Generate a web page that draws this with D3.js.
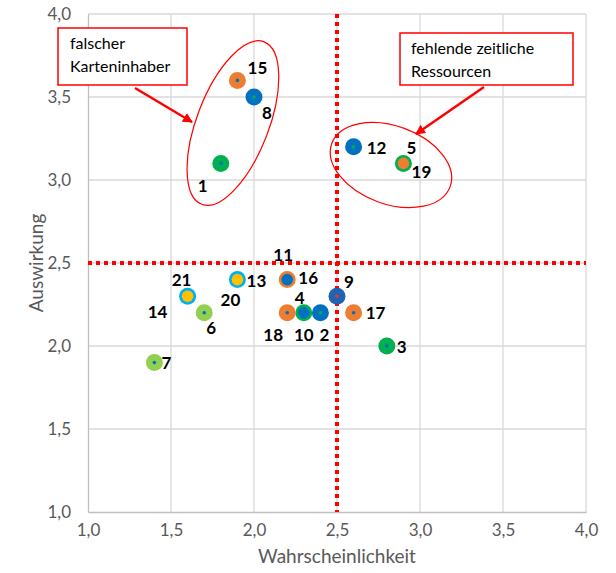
<!DOCTYPE html>
<html><head><meta charset="utf-8">
<script src="https://cdn.jsdelivr.net/npm/d3@7/dist/d3.min.js"></script>
<style>
html,body{margin:0;padding:0;background:#fff;}
svg{display:block;font-family:Lato,"Open Sans",sans-serif;}
</style></head>
<body>
<svg id="c" width="616" height="573"></svg>
<script>
// ---- data ----
const riskIds = [1,2,3,4,5,6,7,8,9,10,11,12,13,14,15,16,17,18,19,20,21];
const wahrscheinlichkeit = [1.8,2.4,2.8,2.3,2.9,1.7,1.4,2.0,2.5,2.3,2.2,2.6,1.9,1.6,1.9,2.2,2.6,2.2,2.9,1.9,1.6];
const auswirkung = [3.1,2.2,2.0,2.2,3.1,2.2,1.9,3.5,2.3,2.2,2.4,3.2,2.4,2.3,3.6,2.4,2.2,2.2,3.1,2.4,2.3];
const xTicks = [1.0,1.5,2.0,2.5,3.0,3.5,4.0];
const yTicks = [1.0,1.5,2.0,2.5,3.0,3.5,4.0];
const thresholdX = 2.5, thresholdY = 2.5;
const calloutTexts = [["falscher","Karteninhaber"],["fehlende zeitliche","Ressourcen"]];

// ---- styles (per risk id) ----
const C = {blue:"#0070C0", orange:"#ED7D31", green:"#00B050", lgreen:"#92D050", lblue:"#00B0F0", yellow:"#FFC000", dblue:"#1F63B3"};
const style = {
 1:{f:C.green,d:C.blue,inner:false,lp:[-18,22]},
 2:{f:C.blue,d:C.green,inner:false,lp:[4,22]},
 3:{f:C.green,d:C.blue,inner:false,lp:[15,1]},
 4:{f:C.green,d:null,inner:false,lp:[-4,-15]},
 5:{f:C.green,d:null,inner:false,lp:[8,-16]},
 6:{f:C.lgreen,d:C.blue,inner:false,lp:[7,15]},
 7:{f:C.lgreen,d:C.blue,inner:false,lp:[12,0]},
 8:{f:C.blue,d:C.green,inner:false,lp:[13,16]},
 9:{f:C.dblue,d:"#e33",inner:false,lp:[12,-14]},
 10:{f:C.blue,d:null,inner:true,lp:[0,22]},
 11:{f:C.orange,d:null,inner:false,lp:[-4,-25]},
 12:{f:C.blue,d:C.green,inner:false,lp:[23,1]},
 13:{f:C.lblue,d:null,inner:false,lp:[19,1]},
 14:{f:C.yellow,d:null,inner:true,lp:[-30,16]},
 15:{f:C.orange,d:C.blue,inner:false,lp:[20,-13]},
 16:{f:C.blue,d:null,inner:true,lp:[21,-2]},
 17:{f:C.orange,d:C.blue,inner:false,lp:[22,0]},
 18:{f:C.orange,d:C.blue,inner:false,lp:[-14,22]},
 19:{f:C.orange,d:null,inner:true,lp:[18,8]},
 20:{f:C.yellow,d:null,inner:true,lp:[-7,20]},
 21:{f:C.lblue,d:null,inner:false,lp:[-6,-16]}
};

const svg = d3.select("#c");
const M = {l:88, r:586, t:14, b:512};
const x = d3.scaleLinear().domain([1,4]).range([M.l,M.r]);
const y = d3.scaleLinear().domain([1,4]).range([M.b,M.t]);
const fmt = d => d3.format(".1f")(d).replace(".",",");
const gray = "#595959";

// grid
svg.append("g").selectAll("line").data(xTicks.slice(1)).join("line")
  .attr("x1",d=>x(d)).attr("x2",d=>x(d)).attr("y1",M.t).attr("y2",M.b)
  .attr("stroke","#D9D9D9").attr("stroke-width",1.3);
svg.append("g").selectAll("line").data(yTicks.slice(1)).join("line")
  .attr("x1",M.l).attr("x2",M.r).attr("y1",d=>y(d)).attr("y2",d=>y(d))
  .attr("stroke","#D9D9D9").attr("stroke-width",1.3);

// axes
const xa = svg.append("g").attr("transform",`translate(0,${M.b})`)
  .call(d3.axisBottom(x).tickValues(xTicks).tickFormat(fmt).tickSize(0).tickPadding(12));
const ya = svg.append("g").attr("transform",`translate(${M.l},0)`)
  .call(d3.axisLeft(y).tickValues(yTicks).tickFormat(fmt).tickSize(0).tickPadding(17));
[xa,ya].forEach(a=>{
  a.select(".domain").attr("stroke","#BFBFBF").attr("stroke-width",1.3);
  a.selectAll("text").attr("fill",gray).style("font-size","17px").style("font-family","Lato,sans-serif");
});

svg.append("text").attr("x",(M.l+M.r)/2).attr("y",563).attr("text-anchor","middle")
  .attr("fill",gray).style("font-size","19px").text("Wahrscheinlichkeit");
svg.append("text").attr("transform",`translate(43,${(M.t+M.b)/2}) rotate(-90)`).attr("text-anchor","middle")
  .attr("fill",gray).style("font-size","19px").text("Auswirkung");

// threshold lines
svg.append("line").attr("x1",x(thresholdX)).attr("x2",x(thresholdX)).attr("y1",M.t).attr("y2",M.b)
  .attr("stroke","#FF0000").attr("stroke-width",4).attr("stroke-dasharray","4 4");
svg.append("line").attr("x1",M.l).attr("x2",M.r).attr("y1",y(thresholdY)).attr("y2",y(thresholdY))
  .attr("stroke","#FF0000").attr("stroke-width",4).attr("stroke-dasharray","4 4");

// points
const pts = riskIds.map((id,i)=>({id, x:wahrscheinlichkeit[i], y:auswirkung[i], s:style[id]}));
const ordered = pts.filter(p=>!p.s.inner).concat(pts.filter(p=>p.s.inner));
const g = svg.append("g");
g.selectAll("circle.m").data(ordered).join("circle").attr("class","m")
  .attr("cx",d=>x(d.x)).attr("cy",d=>y(d.y)).attr("r",d=>d.s.inner?5.8:8.5)
  .attr("fill",d=>d.s.f);
g.selectAll("circle.d").data(ordered.filter(d=>d.s.d)).join("circle").attr("class","d")
  .attr("cx",d=>x(d.x)).attr("cy",d=>y(d.y)).attr("r",1.8).attr("fill",d=>d.s.d);
g.selectAll("text").data(pts).join("text")
  .attr("x",d=>x(d.x)+d.s.lp[0]).attr("y",d=>y(d.y)+d.s.lp[1])
  .attr("text-anchor","middle").attr("dy","0.36em")
  .attr("fill","#000").style("font-size","17px").style("font-weight","bold").text(d=>d.id);

// ellipses (data units for centres)
const ellipses = [{cx:1.873, cy:3.343, rx:36, ry:87, rot:21},{cx:2.825, cy:3.09, rx:63, ry:39, rot:20}];
svg.append("g").selectAll("ellipse").data(ellipses).join("ellipse")
  .attr("transform",d=>`translate(${x(d.cx)},${y(d.cy)}) rotate(${d.rot})`)
  .attr("rx",d=>d.rx).attr("ry",d=>d.ry).attr("fill","none").attr("stroke","#FF0000").attr("stroke-width",1.2);

// callout boxes with arrows
svg.append("defs").append("marker").attr("id","ah").attr("viewBox","0 0 10 10").attr("refX",9).attr("refY",5)
  .attr("markerWidth",4).attr("markerHeight",4).attr("orient","auto")
  .append("path").attr("d","M0,0L10,5L0,10z").attr("fill","#FF0000");
const boxes = [
  {left:58,top:28,w:129,h:57, tx:70, lines:calloutTexts[0], a:[[135,88],[192,122]]},
  {left:400,top:33,w:173,h:52, tx:411, lines:calloutTexts[1], a:[[484,87],[416,134]]}
];
boxes.forEach(b=>{
  svg.append("line").attr("x1",b.a[0][0]).attr("y1",b.a[0][1]).attr("x2",b.a[1][0]).attr("y2",b.a[1][1])
    .attr("stroke","#FF0000").attr("stroke-width",2.5).attr("marker-end","url(#ah)");
  svg.append("rect").attr("x",b.left).attr("y",b.top).attr("width",b.w).attr("height",b.h)
    .attr("fill","#fff").attr("stroke","#FF0000").attr("stroke-width",1.5);
  b.lines.forEach((t,i)=>svg.append("text").attr("x",b.tx).attr("y",b.top+21+i*23)
    .attr("fill","#000").style("font-size","16px").text(t));
});
</script>
</body></html>
